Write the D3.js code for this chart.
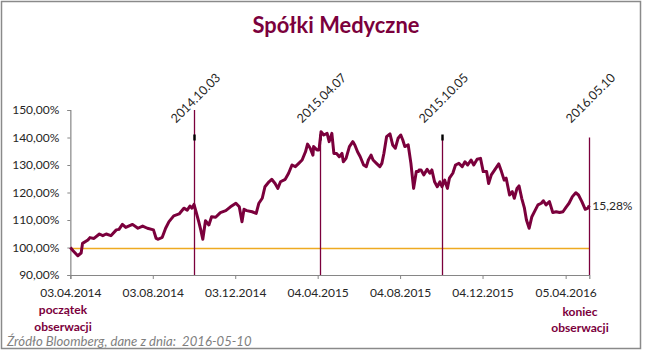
<!DOCTYPE html>
<html><head><meta charset="utf-8">
<script src="https://cdn.jsdelivr.net/npm/d3@7"></script>
<style>
html,body{margin:0;padding:0;background:#fff;}
svg{display:block;font-family:Lato,"Open Sans",sans-serif;}
</style></head>
<body>
<svg id="c" width="646" height="354"></svg>
<script>
// ---- data ----
const titleText = "Spółki Medyczne";
const startDate = "2014-04-03";
const endDate = "2016-05-10";
// days since startDate
const dayOffsets = [0,4,11,16,18,26,29,35,43,48,53,60,68,72,77,82,92,100,107,114,123,127,130,136,141,146,153,161,168,173,177,180,183,186,190,193,196,200,205,209,215,222,230,237,245,250,254,257,261,269,275,279,284,288,294,298,303,307,311,318,323,328,333,338,343,348,351,355,359,360,365,368,371,375,380,383,387,390,394,398,402,404,408,413,418,421,425,429,434,438,441,445,448,453,458,461,464,468,473,477,481,485,489,492,495,500,504,508,512,515,516,519,523,528,532,535,539,543,547,550,554,558,561,566,570,575,580,584,588,593,597,602,607,611,616,619,623,628,634,638,642,645,647,650,654,657,661,664,668,672,675,679,683,688,692,697,700,704,709,714,719,724,729,734,738,743,748,752,757,762,766,768];
const values = [100,98.8,97,98,101.5,102.7,103.6,103.3,104.9,104.3,104.9,104.3,106.4,106.6,108.4,107.3,108.4,107,107.8,107,106.4,103.3,103,103.7,107,109.4,111.5,112.2,114.3,113.6,115.1,114.3,115.7,113,109.4,106.4,103,109.7,108.2,111.2,111,112.7,113.4,114.8,116.1,114.8,109.4,113.9,113.4,113,112.4,116.1,117.9,122.1,123.9,124.8,123.3,121.5,123.9,124.8,127,130,129.4,130.6,131.8,134.8,137.6,136.1,133.6,136.7,135.5,135.5,142.1,140.9,141.5,138.5,141.5,134.2,134.2,133,134.2,131.2,132.4,136.7,138.5,137.3,134.8,133,130,129.4,131.8,133.6,131.8,130.6,129.4,130.6,134.2,140.3,141.3,137.3,136.1,139.7,140.9,139.1,136.7,137.3,130.6,121.5,127.6,127.6,128.2,128.2,126.4,128.4,127,128.2,123.9,122.1,123.9,122.1,124.5,121.5,125.2,127,130,130.6,129.4,131.2,130,131.8,130,132.1,132.4,127.6,127.6,123.3,126.4,128.2,130.4,127.6,124.5,125.2,122.7,119.1,120.3,117.9,121.5,122.4,117.9,114.3,110,107,111.2,113.6,115.5,116.1,117,115.5,116.7,112.7,113,112.7,113,114.8,116.1,118.5,119.9,119.1,116.7,113.9,114.3,115.28];
const endLabel = "15,28%";
const xTickDates = ["2014-04-03","2014-08-03","2014-12-03","2015-04-04","2015-08-04","2015-12-04","2016-04-05"];
const xTickLabels = ["03.04.2014","03.08.2014","03.12.2014","04.04.2015","04.08.2015","04.12.2015","05.04.2016"];
const yTicks = [90,100,110,120,130,140,150];
const baseline = 100;
const eventDates = ["2014-10-03","2015-04-07","2015-10-05","2016-05-10"];
const eventLabels = ["2014.10.03","2015.04.07","2015.10.05","2016.05.10"];
const eventTops = [150,140,140,140];
const eventMarkers = [140,140,140,null];
const startNote = ["początek","obserwacji"];
const endNote = ["koniec","obserwacji"];
const sourceText = "Źródło Bloomberg, dane z dnia:  2016-05-10";

// ---- drawing ----
const svg = d3.select("#c");
const wine = "#7B003C";
const parse = d3.utcParse("%Y-%m-%d");
const t0 = parse(startDate);
const data = dayOffsets.map((d,i)=>({date:d3.utcDay.offset(t0,d), v:values[i]}));

const x = d3.scaleUtc().domain([t0, parse(endDate)]).range([70.35, 589.3]);
const y = d3.scaleLinear().domain([90,150]).range([275,110]);

// frame
svg.append("rect").attr("x",1.5).attr("y",1.5).attr("width",639).attr("height",347)
  .attr("fill","#fff").attr("stroke","#8a8a8a").attr("stroke-width",1.5);

// title
const title = svg.append("text").attr("x",336).attr("y",33).attr("text-anchor","middle")
  .attr("fill",wine).attr("font-weight","bold").attr("font-size",19).text(titleText);
{
  const w = title.node().getComputedTextLength();
  title.attr("font-size", 19*167/w);
}

// axes
const yAxis = svg.append("g").attr("transform",`translate(${x.range()[0]},0)`)
  .call(d3.axisLeft(y).tickValues(yTicks).tickSize(3).tickPadding(8)
    .tickFormat(d=>d.toFixed(2).replace(".",",")+"%"));
const xAxis = svg.append("g").attr("transform",`translate(0,${y(90)})`)
  .call(d3.axisBottom(x).tickValues(xTickDates.map(parse)).tickSize(4).tickPadding(9)
    .tickFormat((d,i)=>xTickLabels[i]));
[yAxis,xAxis].forEach(g=>{
  g.select(".domain").attr("stroke","#868686").attr("stroke-width",1.2);
  g.selectAll(".tick line").attr("stroke","#868686");
  g.selectAll("text").attr("fill","#262626").attr("font-size",12).attr("font-family","Lato");
});

// baseline
svg.append("line").attr("x1",x.range()[0]+1).attr("x2",x.range()[1])
  .attr("y1",Math.round(y(baseline))+0.5).attr("y2",Math.round(y(baseline))+0.5)
  .attr("stroke","#EEAA22").attr("stroke-width",1.3);

// event lines
eventDates.forEach((ds,i)=>{
  const ex = Math.round(x(parse(ds)))+0.5;
  svg.append("line").attr("x1",ex).attr("x2",ex).attr("y1",y(90)).attr("y2",y(eventTops[i]))
    .attr("stroke",wine).attr("stroke-width",1.3);
  if(eventMarkers[i]!==null){
    svg.append("rect").attr("x",ex-1.2).attr("y",y(eventMarkers[i])-3).attr("width",2.4).attr("height",6).attr("fill","#000");
  }
  svg.append("text").attr("transform",`translate(${ex+1},98) rotate(-45)`)
    .attr("text-anchor","middle").attr("dy","0.35em").attr("font-size",12.5)
    .attr("fill","#262626").text(eventLabels[i]);
});

// series
svg.append("path").datum(data).attr("fill","none").attr("stroke",wine)
  .attr("stroke-width",3).attr("stroke-linejoin","round")
  .attr("d",d3.line().x(d=>x(d.date)).y(d=>y(d.v)));

// end label
svg.append("text").attr("x",x.range()[1]+3).attr("y",y(values[values.length-1])).attr("dy","0.35em")
  .attr("font-size",12).attr("fill","#262626").text(endLabel);

// notes
startNote.forEach((s,i)=>svg.append("text").attr("x",63).attr("y",314+i*17).attr("text-anchor","middle")
  .attr("font-size",12).attr("font-weight","bold").attr("fill",wine).text(s));
endNote.forEach((s,i)=>svg.append("text").attr("x",580).attr("y",316+i*16).attr("text-anchor","middle")
  .attr("font-size",12).attr("font-weight","bold").attr("fill",wine).text(s));

// source
const src = svg.append("text").attr("x",7).attr("y",346).attr("font-size",12).attr("font-style","italic")
  .attr("fill","#7f7f7f").attr("xml:space","preserve").style("white-space","pre").text(sourceText);
{
  const w = src.node().getComputedTextLength();
  src.attr("font-size", Math.min(13.5, 12*245/w));
}
</script>
</body></html>
